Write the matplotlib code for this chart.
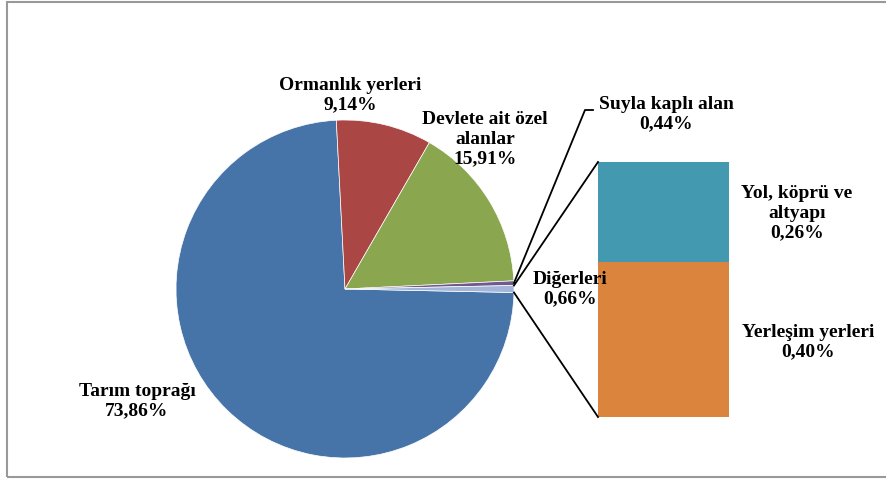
import matplotlib.pyplot as plt
from matplotlib.patches import Rectangle
import numpy as np

# dilimler (ana pasta)
pie_names = ["Tarım toprağı", "Ormanlık yerleri", "Devlete ait özel\nalanlar",
             "Suyla kaplı alan", "Diğerleri"]
pie_colors = ["#4674A8", "#AA4643", "#8AA64F", "#71588F", "#A3B5D8"]

# Diğerleri'nin alt kırılımı (sütun)
bar_names = ["Yerleşim yerleri", "Yol, köprü ve\naltyapı"]
bar_values = [0.40, 0.26]
bar_colors = ["#DB843D", "#4299B0"]

pie_values = [73.86, 9.14, 15.91, 0.44, sum(bar_values)]


def fmt(v):
    return ("%.2f%%" % v).replace(".", ",")


plt.rcParams["font.family"] = ["Liberation Serif", "DejaVu Serif"]
plt.rcParams["font.weight"] = "bold"

W, H = 887, 479
fig = plt.figure(figsize=(W / 100, H / 100), dpi=100)
ax = fig.add_axes([0, 0, 1, 1])

# pasta: Diğerleri dilimi sağda, yatay eksende ortalanmış
cx, cy, r = 345, 190, 169
total = sum(pie_values)
d_ang = pie_values[-1] / total * 360
s_ang = pie_values[3] / total * 360
start = -d_ang / 2
ax.pie(pie_values, colors=pie_colors, startangle=start, counterclock=False,
       center=(cx, cy), radius=r, frame=True,
       wedgeprops=dict(edgecolor="white", linewidth=0.5))

# sütun
bx, bw, by, bh = 598, 131, 62, 255
k = bh / sum(bar_values)
bottom = by
for v, c in zip(bar_values, bar_colors):
    ax.bar(bx + bw / 2, v * k, width=bw, bottom=bottom, color=c, edgecolor="none")
    bottom += v * k

# bağlantı çizgileri
a1 = np.radians(start + d_ang)
a2 = np.radians(start)
ax.plot([cx + r * np.cos(a1), bx], [cy + r * np.sin(a1), by + bh], color="black", lw=1.3)
ax.plot([cx + r * np.cos(a2), bx], [cy + r * np.sin(a2), by], color="black", lw=1.3)

# Suyla kaplı alan etiket çizgisi
a3 = np.radians(start + d_ang + s_ang / 2)
ax.plot([cx + r * np.cos(a3), 585, 593], [cy + r * np.sin(a3), 369, 369],
        color="black", lw=1.3)

# etiketler
fs = 14
pie_label_pos = [(137, 401), (350, 95), (485, 139), (666, 114), (570, 289)]
for name, v, (x, y) in zip(pie_names, pie_values, pie_label_pos):
    ax.text(x, H - y, name + "\n" + fmt(v), ha="center", va="center",
            fontsize=fs, fontweight="bold", linespacing=1.2)

bar_label_pos = [(808, 342), (797, 213)]
for name, v, (x, y) in zip(bar_names, bar_values, bar_label_pos):
    ax.text(x, H - y, name + "\n" + fmt(v), ha="center", va="center",
            fontsize=fs, fontweight="bold", linespacing=1.2)

ax.set_xlim(0, W)
ax.set_ylim(0, H)
ax.set_aspect("auto")
ax.axis("off")

fig.patches.append(Rectangle((7 / W, 2 / H), 1.0, 475 / H, transform=fig.transFigure,
                             fill=False, edgecolor="#999999", lw=1.5))

fig.savefig("out.png", dpi=100)
